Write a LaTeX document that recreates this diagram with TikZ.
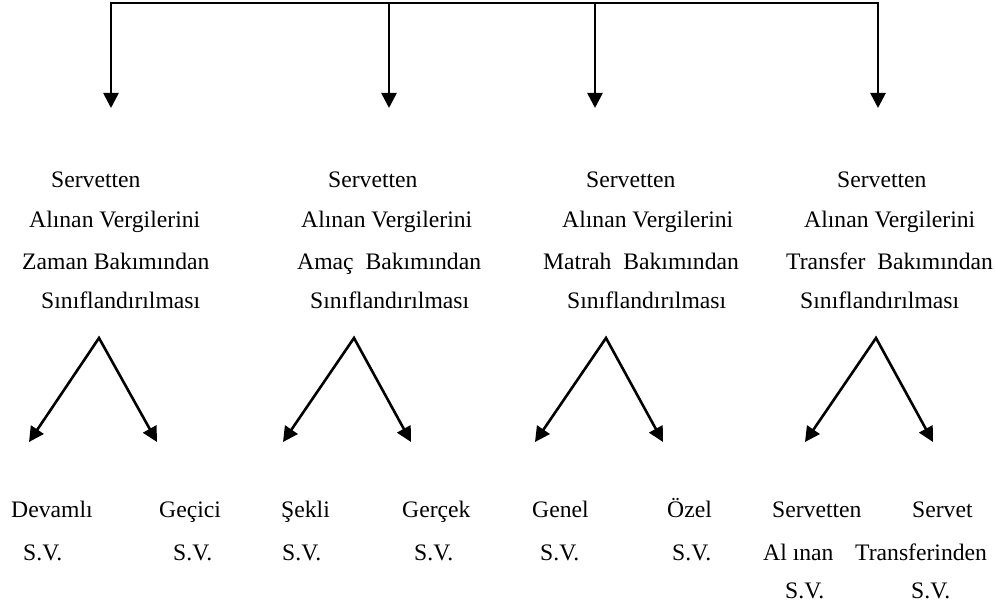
\documentclass[tikz,border=0pt]{standalone}
\usepackage{fontspec}
\setmainfont{Liberation Serif}[Ligatures=CommonOff]
\usetikzlibrary{arrows.meta}
\begin{document}
\begin{tikzpicture}[x=1pt,y=-1pt,
  lbl/.style={anchor=base west, inner sep=0pt, font=\fontsize{23.65}{28}\selectfont},
  tip/.tip={Triangle[length=15pt,width=15pt]},
  arr/.style={line width=2.6pt, -{tip}},
  varr/.style={line width=2.6pt, {tip}-{tip}},
  ln/.style={line width=2.6pt, line cap=rect}]
\useasboundingbox (0,0) rectangle (995,607);

% top distribution line
\coordinate (t1) at (111,3);
\coordinate (t2) at (389,3);
\coordinate (t3) at (595,3);
\coordinate (t4) at (878,3);
\coordinate (d1) at (111,108);
\coordinate (d2) at (389,108);
\coordinate (d3) at (595,108);
\coordinate (d4) at (878,108);
\draw[ln] (t1) -- (t4);
\draw[arr] (t1) -- (d1);
\draw[arr] (t2) -- (d2);
\draw[arr] (t3) -- (d3);
\draw[arr] (t4) -- (d4);

% middle blocks
\node[lbl] (b1a) at (51,187) {Servetten};
\node[lbl] (b1b) at (29,227) {Alınan Vergilerini};
\node[lbl] (b1c) at (22,269) {Zaman Bakımından};
\node[lbl] (b1d) at (41,308) {Sınıflandırılması};

\node[lbl] (b2a) at (328,187) {Servetten};
\node[lbl] (b2b) at (301,227) {Alınan Vergilerini};
\node[lbl] (b2c) at (297,269) {Amaç~~Bakımından};
\node[lbl] (b2d) at (310,308) {Sınıflandırılması};

\node[lbl] (b3a) at (586,187) {Servetten};
\node[lbl] (b3b) at (562,227) {Alınan Vergilerini};
\node[lbl] (b3c) at (543,269) {Matrah~~Bakımından};
\node[lbl] (b3d) at (567,308) {Sınıflandırılması};

\node[lbl] (b4a) at (837,187) {Servetten};
\node[lbl] (b4b) at (804,227) {Alınan Vergilerini};
\node[lbl] (b4c) at (786,269) {Transfer~~Bakımından};
\node[lbl] (b4d) at (800,308) {Sınıflandırılması};

% V arrows
\coordinate (a1) at (99,338);  \coordinate (l1) at (29,442);  \coordinate (r1) at (157,442);
\coordinate (a2) at (354,338); \coordinate (l2) at (283,442); \coordinate (r2) at (411,442);
\coordinate (a3) at (606,338); \coordinate (l3) at (535,442); \coordinate (r3) at (663,442);
\coordinate (a4) at (876,338); \coordinate (l4) at (805,442); \coordinate (r4) at (933,442);
\draw[varr] (l1) -- (a1) -- (r1);
\draw[varr] (l2) -- (a2) -- (r2);
\draw[varr] (l3) -- (a3) -- (r3);
\draw[varr] (l4) -- (a4) -- (r4);

% bottom labels
\node[lbl] (c1a) at (11,517) {Devamlı};
\node[lbl] (c1b) at (23,560) {S.V.};
\node[lbl] (c2a) at (159,517) {Geçici};
\node[lbl] (c2b) at (173,560) {S.V.};
\node[lbl] (c3a) at (281,517) {Şekli};
\node[lbl] (c3b) at (282,560) {S.V.};
\node[lbl] (c4a) at (402,517) {Gerçek};
\node[lbl] (c4b) at (414,560) {S.V.};
\node[lbl] (c5a) at (532,517) {Genel};
\node[lbl] (c5b) at (540,560) {S.V.};
\node[lbl] (c6a) at (667,517) {Özel};
\node[lbl] (c6b) at (672,560) {S.V.};
\node[lbl] (c7a) at (772,517) {Servetten};
\node[lbl] (c7b) at (763,560) {Al ınan};
\node[lbl] (c7c) at (785,598) {S.V.};
\node[lbl] (c8a) at (912,517) {Servet};
\node[lbl] (c8b) at (855,560) {Transferinden};
\node[lbl] (c8c) at (911,598) {S.V.};
\end{tikzpicture}
\end{document}
